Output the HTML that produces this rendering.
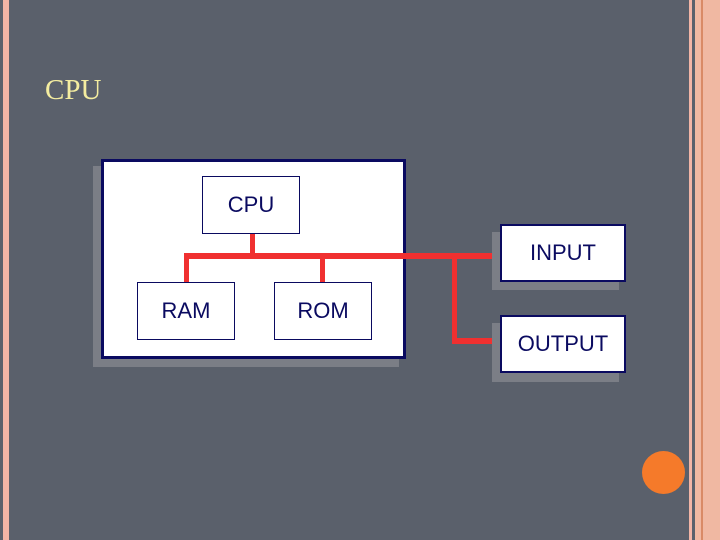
<!DOCTYPE html>
<html><head><style>
body{margin:0}
.p{position:relative;width:720px;height:540px;background:#5a606b;overflow:hidden;font-family:"Liberation Sans",sans-serif}
.a{position:absolute}
.b{position:absolute;background:#fff;border:2px solid #0a0a60;box-sizing:border-box;color:#0a0a60;font-size:22px;display:flex;align-items:center;justify-content:center}
.s{position:absolute;background:#7b7e86}
.r{position:absolute;background:#f03030}
</style></head><body><div class="p">
<div class="a" style="left:3px;top:0;width:6px;height:540px;background:#f2b5a6"></div>
<div class="a" style="left:689px;top:0;width:3px;height:540px;background:#f2b5a6"></div>
<div class="a" style="left:695px;top:0;width:25px;height:540px;background:#f0b8a2"></div>
<div class="a" style="left:701px;top:0;width:2px;height:540px;background:#d98a66"></div>
<div class="a" style="left:45px;top:74px;font-family:'Liberation Serif',serif;font-size:29px;color:#f4eda0">CPU</div>
<div class="s" style="left:93px;top:166px;width:306px;height:201px"></div>
<div class="a" style="left:101px;top:159px;width:305px;height:200px;background:#fff;border:3px solid #0a0a60;box-sizing:border-box"></div>
<div class="b" style="left:202px;top:176px;width:98px;height:58px;border-width:1px">CPU</div>
<div class="b" style="left:137px;top:282px;width:98px;height:58px;border-width:1px">RAM</div>
<div class="b" style="left:274px;top:282px;width:98px;height:58px;border-width:1px">ROM</div>
<div class="r" style="left:184px;top:253px;width:316px;height:6px"></div>
<div class="r" style="left:250px;top:234px;width:5px;height:22px"></div>
<div class="r" style="left:184px;top:253px;width:5px;height:29px"></div>
<div class="r" style="left:320px;top:253px;width:5px;height:29px"></div>
<div class="r" style="left:452px;top:253px;width:5px;height:91px"></div>
<div class="r" style="left:452px;top:338px;width:48px;height:6px"></div>
<div class="s" style="left:492px;top:232px;width:127px;height:58px"></div>
<div class="b" style="left:500px;top:224px;width:126px;height:58px">INPUT</div>
<div class="s" style="left:492px;top:323px;width:127px;height:59px"></div>
<div class="b" style="left:500px;top:315px;width:126px;height:58px">OUTPUT</div>
<div class="a" style="left:642px;top:451px;width:43px;height:43px;border-radius:50%;background:#f57a2a"></div>
</div></body></html>
